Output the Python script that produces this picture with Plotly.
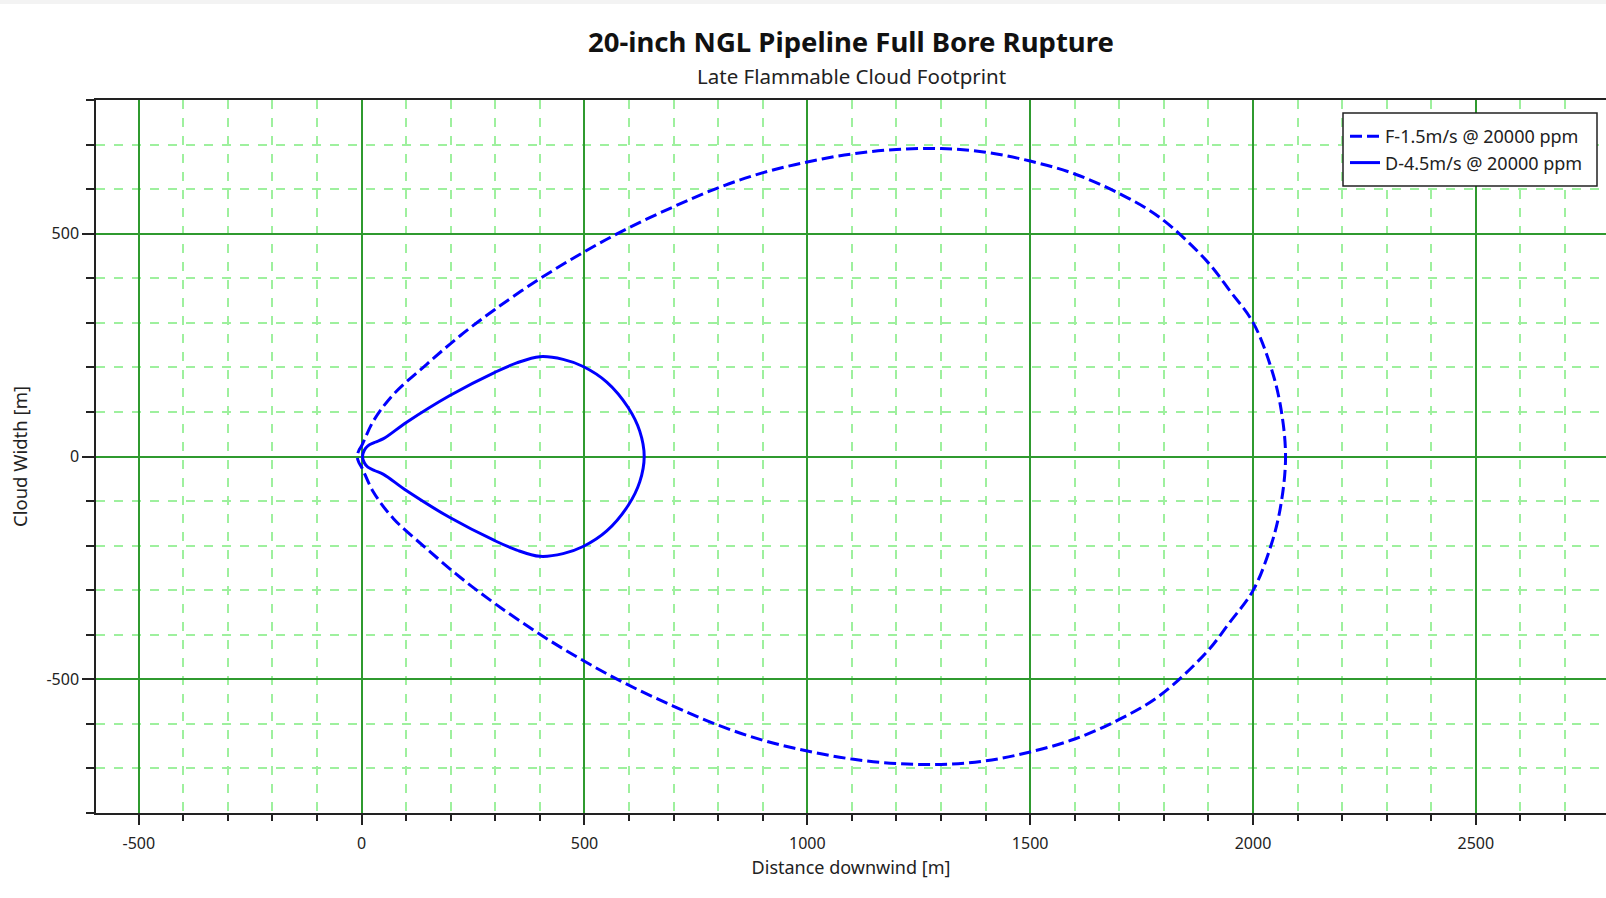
import plotly.graph_objects as go

# F-1.5m/s @ 20000 ppm cloud outline (closed contour)
f_x = [-10, -6, 0, 26, 71, 146, 221, 299, 400, 499, 595, 699, 800, 901, 1000, 1100, 1200,
       1300, 1400, 1500, 1600, 1700, 1790, 1896, 1948, 2000, 2038, 2061, 2073,
       2061, 2038, 2000, 1948, 1896, 1790, 1700, 1600, 1500, 1400, 1300,
       1200, 1100, 1000, 901, 800, 699, 595, 499, 400, 299, 221, 146, 71, 26, 0, -6, -10]
f_y = [0, 14, 24, 79, 139, 207, 271, 330, 399, 459, 511, 560, 603, 637, 661, 679, 689,
       691, 683, 663, 634, 590, 537, 439, 372, 301, 207, 117, 0,
       -117, -207, -301, -372, -439, -537, -590, -634, -663, -683, -691,
       -689, -679, -661, -637, -603, -560, -511, -459, -399, -330, -271, -207, -139, -79, -24, -14, 0]

# D-4.5m/s @ 20000 ppm cloud outline
d_x = [2, 6, 14, 30, 49, 101, 198, 299, 348, 400, 452, 497, 550, 598, 624, 634,
       624, 598, 550, 497, 452, 400, 348, 299, 198, 101, 49, 30, 14, 6, 2]
d_y = [0, 14, 24, 32, 40, 77, 137, 189, 210, 224, 218, 202, 167, 110, 57, 0,
       -57, -110, -167, -202, -218, -224, -210, -189, -137, -77, -40, -32, -24, -14, 0]

series_names = ["F-1.5m/s @ 20000 ppm", "D-4.5m/s @ 20000 ppm"]

x_tick_vals = [-500, 0, 500, 1000, 1500, 2000, 2500]
x_tick_text = ["-500", "0", "500", "1000", "1500", "2000", "2500"]
y_tick_vals = [-500, 0, 500]
y_tick_text = ["-500", "0", "500"]

FONT = "Segoe UI, Noto Sans, Open Sans, sans-serif"

fig = go.Figure()

fig.add_trace(go.Scatter(
    x=f_x, y=f_y, mode="lines", name=series_names[0],
    line=dict(color="#0000ff", width=3, dash="12px,5px", shape="spline", smoothing=1.0),
))
fig.add_trace(go.Scatter(
    x=d_x, y=d_y, mode="lines", name=series_names[1],
    line=dict(color="#0000ff", width=3, shape="spline", smoothing=1.0),
))

minor_style = dict(dtick=100, tick0=0, showgrid=True, gridcolor="#9ef09e", griddash="dash",
                   gridwidth=1.5, ticks="outside", tickcolor="#222", tickwidth=1.5)

fig.update_xaxes(
    range=[-596, 2792], tickmode="array", tickvals=x_tick_vals, ticktext=x_tick_text,
    showgrid=True, gridcolor="#2f9a2f", gridwidth=1.5, zeroline=False,
    showline=True, linecolor="#222", linewidth=1.5, mirror=True,
    ticks="outside", ticklen=10, tickwidth=1.5, tickcolor="#222", ticklabelstandoff=5,
    tickfont=dict(family=FONT, size=16, color="#222"),
    minor=dict(minor_style, ticklen=6),
    title=dict(text="Distance downwind [m]", font=dict(family=FONT, size=18, color="#222"),
               standoff=8),
    automargin=False,
)
fig.update_yaxes(
    range=[-800, 800], tickmode="array", tickvals=y_tick_vals, ticktext=y_tick_text,
    showgrid=True, gridcolor="#2f9a2f", gridwidth=1.5, zeroline=False,
    showline=True, linecolor="#222", linewidth=1.5,
    ticks="outside", ticklen=12, tickwidth=1.5, tickcolor="#222",
    tickfont=dict(family=FONT, size=16, color="#222"),
    minor=dict(minor_style, ticklen=8),
    title=dict(text="Cloud Width [m]", font=dict(family=FONT, size=18.5, color="#222"),
               standoff=14),
    automargin=False,
)

fig.update_layout(
    width=1606, height=898,
    margin=dict(l=96, r=0, t=100, b=85),
    plot_bgcolor="white", paper_bgcolor="white",
    showlegend=True,
    legend=dict(
        x=(1345 - 96) / 1510, y=(813 - 118) / 713, xanchor="left", yanchor="top",
        bgcolor="rgba(0,0,0,0)", borderwidth=0,
        font=dict(family=FONT, size=18, color="#222"),
        itemwidth=30, tracegroupgap=0,
    ),
    annotations=[
        dict(text="<b>20-inch NGL Pipeline Full Bore Rupture</b>", xref="paper", yref="paper",
             x=0.5, y=(813 - 42) / 713, xanchor="center", yanchor="middle", showarrow=False,
             font=dict(family=FONT, size=27.5, color="#111")),
        dict(text="Late Flammable Cloud Footprint", xref="paper", yref="paper",
             x=0.5, y=(813 - 76) / 713, xanchor="center", yanchor="middle", showarrow=False,
             font=dict(family=FONT, size=20.5, color="#222")),
    ],
    shapes=[
        # thin grey strip along the top edge of the window
        dict(type="rect", xref="paper", yref="paper", x0=-0.07, x1=1.0,
             y0=(813 - 4) / 713, y1=(813 - 0) / 713, fillcolor="#f3f3f3", line=dict(width=0),
             layer="below"),
        # legend frame
        dict(type="rect", xref="paper", yref="paper",
             x0=(1343 - 96) / 1510, x1=(1597 - 96) / 1510,
             y0=(813 - 186) / 713, y1=(813 - 113) / 713,
             fillcolor="white", line=dict(color="#222", width=1.5), layer="above"),
    ],
)

# remove the default page margin so the figure sits at the window's top-left corner
fig.write_html("out.html", config={"displayModeBar": False},
               post_script="document.body.style.margin='0';")
